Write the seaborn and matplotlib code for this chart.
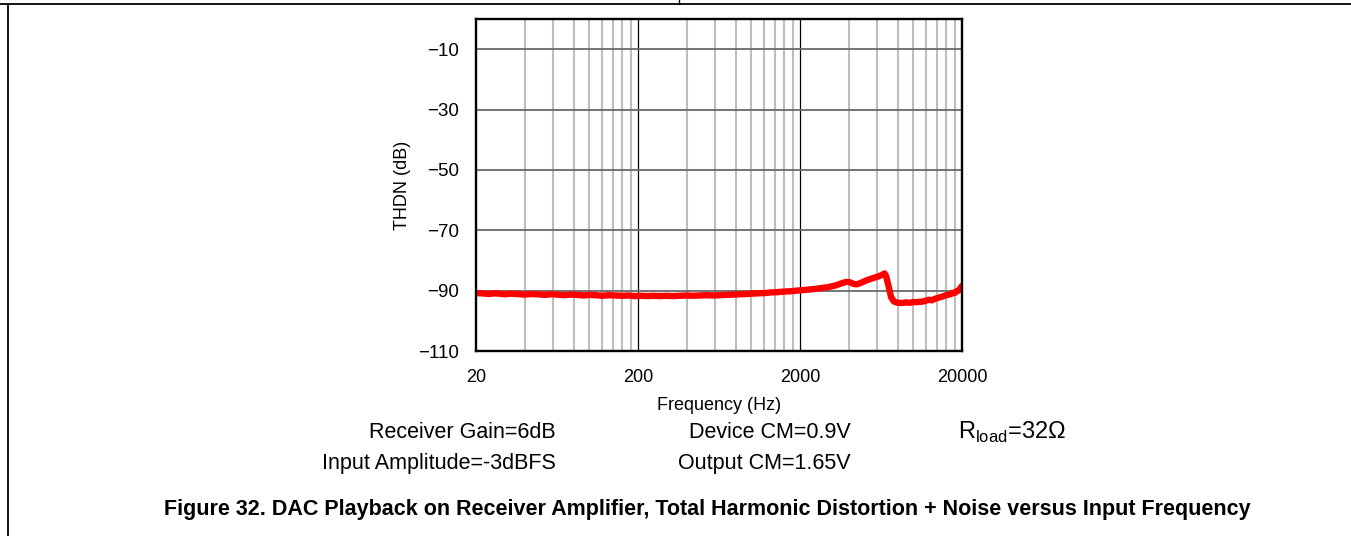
import numpy as np
import matplotlib
matplotlib.use("Agg")
import matplotlib.pyplot as plt
import pandas as pd
import seaborn as sns

# values
freq = [20, 22, 24, 26, 28, 30, 33, 36, 40, 44, 48, 53, 58, 64, 70, 77, 85, 93,
        100, 110, 120, 132, 145, 160, 175, 190, 210, 230, 250, 275, 300, 330, 360,
        400, 440, 480, 530, 580, 640, 700, 770, 850, 930, 1000, 1100, 1200, 1320,
        1450, 1600, 1750, 1900, 2100, 2300, 2500, 2750, 3000, 3300, 3600, 3850,
        4050, 4300, 4500, 4800, 5200, 5600, 6000, 6400, 6650, 6800, 7000, 7300,
        7600, 8000, 8500, 9000, 9500, 10000, 10500, 11000, 11500, 12000, 12500,
        13000, 13500, 14000, 15000, 16000, 17000, 17500, 18000, 18500, 19000,
        19500, 20000]
thdn = [-90.8, -90.9, -91.1, -90.9, -91.0, -91.2, -91.0, -91.1, -91.3, -91.1,
        -91.2, -91.4, -91.2, -91.3, -91.5, -91.3, -91.4, -91.6, -91.4, -91.5,
        -91.7, -91.5, -91.6, -91.7, -91.6, -91.8, -91.7, -91.8, -91.7, -91.8,
        -91.7, -91.8, -91.7, -91.6, -91.7, -91.6, -91.5, -91.6, -91.5, -91.4,
        -91.3, -91.2, -91.1, -91.0, -90.9, -90.8, -90.6, -90.5, -90.3, -90.2,
        -90.0, -89.8, -89.6, -89.4, -89.1, -88.8, -88.3, -87.6, -87.1, -87.2,
        -87.8, -87.9, -87.3, -86.5, -85.9, -85.4, -84.8, -84.3, -85.2, -88.0,
        -92.2, -93.6, -94.0, -94.1, -93.9, -94.0, -93.8, -93.8, -93.7, -93.6,
        -93.3, -93.0, -93.2, -92.8, -92.5, -92.0, -91.5, -91.2, -90.7, -90.8,
        -90.2, -90.0, -89.3, -88.4]

x_ticks = [20, 200, 2000, 20000]
y_ticks = [-10, -30, -50, -70, -90, -110]
# light grid at 40, 60, ... 180, 400 ... 1800, 4000 ... 18000
minor_x = [m * 20 * d for d in [1, 10, 100] for m in range(2, 10)]

df = pd.DataFrame({"freq": freq, "thdn": thdn})

sns.set_style("white")
plt.rcParams['font.family'] = ['Liberation Sans', 'DejaVu Sans']
plt.rcParams['mathtext.fontset'] = 'custom'
plt.rcParams['mathtext.rm'] = 'Liberation Sans'
plt.rcParams['text.color'] = 'black'
plt.rcParams['axes.labelcolor'] = 'black'
plt.rcParams['xtick.color'] = 'black'
plt.rcParams['ytick.color'] = 'black'

fig = plt.figure(figsize=(13.51, 5.36), dpi=100)
ax = fig.add_axes([0.3523, 0.3451, 0.3598, 0.6195])

# grid
for f in minor_x:
    ax.axvline(f, color="#bdbdbd", lw=1.5, zorder=1)
for f in [200, 2000]:
    ax.axvline(f, color="black", lw=0.9, zorder=1)
for v in y_ticks[:-1]:
    ax.axhline(v, color="#6a6a6a", lw=1.3, zorder=1)

sns.lineplot(data=df, x="freq", y="thdn", ax=ax, color="#ff0000", lw=4.6, zorder=3)

ax.set_xscale("log")
ax.set_xlim(20, 20000)
ax.set_ylim(-110, 0)
ax.set_xticks(x_ticks)
ax.set_xticklabels([str(t) for t in x_ticks])
ax.minorticks_off()
ax.set_yticks(y_ticks)
ax.set_yticklabels(["\u2212" + str(-t) for t in y_ticks])
ax.tick_params(axis="both", length=0)
ax.tick_params(axis="y", pad=12, labelsize=13.5)
ax.tick_params(axis="x", pad=13, labelsize=13)
for s in ax.spines.values():
    s.set_color("black")
    s.set_linewidth(1.7)
    s.set_zorder(4)

ax.set_xlabel("Frequency (Hz)", fontsize=13, labelpad=8)
ax.set_ylabel("THDN (dB)", fontsize=13, labelpad=5)

# conditions under the plot
fs = 15.5
fig.text(556 / 1351, 1 - 432 / 536, "Receiver Gain=6dB", ha="right", va="center", fontsize=fs)
fig.text(556 / 1351, 1 - 464 / 536, "Input Amplitude=-3dBFS", ha="right", va="center", fontsize=fs)
fig.text(770 / 1351, 1 - 432 / 536, "Device CM=0.9V", ha="center", va="center", fontsize=fs)
fig.text(764 / 1351, 1 - 464 / 536, "Output CM=1.65V", ha="center", va="center", fontsize=fs)
fig.text(958 / 1351, 1 - 432 / 536, r"R$_{\mathrm{load}}$=32Ω", ha="left", va="center", fontsize=17)

fig.text(707 / 1351, 1 - 510 / 536,
         "Figure 32. DAC Playback on Receiver Amplifier, Total Harmonic Distortion + Noise versus Input Frequency",
         ha="center", va="center", fontsize=15.5, fontweight="bold")

# page frame lines
fig.add_artist(plt.Line2D([0, 1], [1 - 4 / 536, 1 - 4 / 536], color="black", lw=1.3, transform=fig.transFigure))
fig.add_artist(plt.Line2D([8 / 1351, 8 / 1351], [0, 1 - 4 / 536], color="black", lw=1.3, transform=fig.transFigure))
fig.add_artist(plt.Line2D([679 / 1351, 679 / 1351], [1 - 4 / 536, 1], color="black", lw=1.0, transform=fig.transFigure))

fig.savefig("out.png", dpi=100)
